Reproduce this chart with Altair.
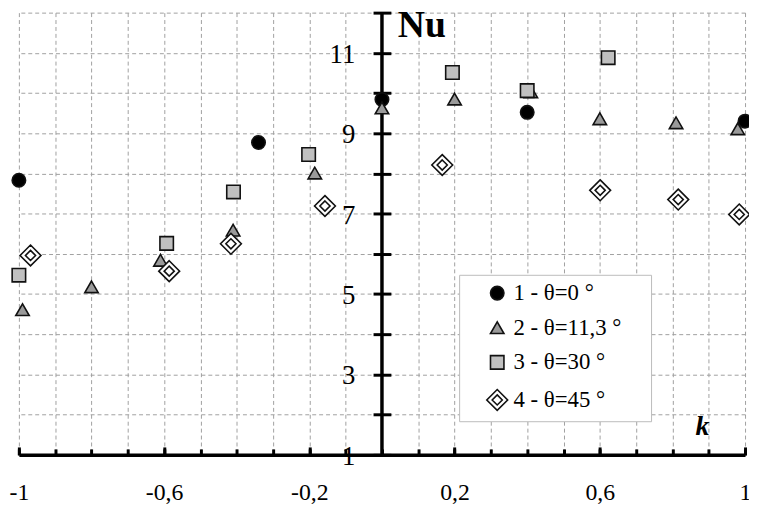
import altair as alt
import pandas as pd

# ---- data ----
k1 = [-1.0, -0.34, 0.0, 0.40, 1.0]
nu1 = [7.83, 8.77, 9.84, 9.52, 9.30]
k2 = [-0.99, -0.80, -0.61, -0.41, -0.185, 0.0, 0.20, 0.41, 0.60, 0.81, 0.98]
nu2 = [4.61, 5.18, 5.84, 6.59, 8.01, 9.63, 9.85, 10.03, 9.36, 9.26, 9.11]
k3 = [-1.0, -0.593, -0.409, -0.202, 0.194, 0.40, 0.623]
nu3 = [5.47, 6.26, 7.54, 8.47, 10.51, 10.06, 10.88]
k4 = [-0.968, -0.586, -0.416, -0.157, 0.166, 0.601, 0.816, 0.984]
nu4 = [5.96, 5.57, 6.25, 7.19, 8.21, 7.58, 7.35, 6.98]
series_labels = ["1 - θ=0 °", "2 - θ=11,3 °", "3 - θ=30 °", "4 - θ=45 °"]

x_grid = [-1.0, -0.9, -0.8, -0.7, -0.6, -0.5, -0.4, -0.3, -0.2, -0.1, 0.0,
          0.1, 0.2, 0.3, 0.4, 0.5, 0.6, 0.7, 0.8, 0.9, 1.0]
x_labels = [-1, -0.6, -0.2, 0.2, 0.6, 1]
y_ticks = [1, 2, 3, 4, 5, 6, 7, 8, 9, 10, 11, 12]
y_labels = [1, 3, 5, 7, 9, 11]
y_title = ["Nu"]
x_title = ["k"]

rows = []
for lab, ks, ns in zip(series_labels, [k1, k2, k3, k4], [nu1, nu2, nu3, nu4]):
    for a, b in zip(ks, ns):
        rows.append({"k": a, "nu": b, "series": lab})
df = pd.DataFrame(rows)

W, H = 734, 447
FONT = "Liberation Serif, Times New Roman, serif"
xscale = alt.Scale(domain=[-1, 1], nice=False, zero=False)
yscale = alt.Scale(domain=[1, 12], nice=False, zero=False)

diamond = "M0,-1.55L1.55,0L0,1.55L-1.55,0Z M0,-0.75L0.75,0L0,0.75L-0.75,0Z"

# the (white, invisible) legend title on the right only widens the box
legend = alt.Legend(
    orient="none", legendX=445, legendY=265,
    title="M", titleOrient="right", titleColor="white", titleFontSize=22,
    titlePadding=2,
    fillColor="white", strokeColor="#bbbbbb", padding=7, rowPadding=11,
    labelFont=FONT, labelFontSize=23, labelColor="black", labelLimit=400,
    symbolOffset=20, labelOffset=5, symbolStrokeColor="#111111",
    symbolStrokeWidth=1.6, symbolOpacity=1, symbolSize=185,
)

xlab_expr = ("indexof([-1,-0.6,-0.2,0.2,0.6,1], datum.value) >= 0 ? "
             "replace(toString(datum.value), '.', ',') : ''")

points = alt.Chart(df).mark_point(
    filled=True, opacity=1, strokeWidth=1.6, size=185
).encode(
    x=alt.X("k:Q", scale=xscale, axis=alt.Axis(
        orient="bottom", values=x_grid, grid=True, gridColor="#a0a0a0",
        gridDash=[4, 3], gridWidth=1, domain=False, ticks=False, tickSize=0,
        labelExpr=xlab_expr, labelFont=FONT, labelFontSize=24, labelPadding=26,
        labelFlush=False, labelOverlap=False, labelColor="black", title=None)),
    y=alt.Y("nu:Q", scale=yscale, axis=alt.Axis(
        orient="left", offset=-(W / 2 + 9), values=y_ticks, grid=False,
        domain=False, ticks=True, tickSize=18, tickWidth=3, tickColor="black",
        labels=False, title=None)),
    fill=alt.Fill("series:N", scale=alt.Scale(
        domain=series_labels, range=["#000000", "#9a9a9a", "#c0c0c0", "#ffffff"]),
        legend=legend),
    stroke=alt.Stroke("series:N", scale=alt.Scale(
        domain=series_labels, range=["#111111", "#111111", "#111111", "#111111"]),
        legend=legend),
    shape=alt.Shape("series:N", scale=alt.Scale(
        domain=series_labels, range=["circle", "triangle-up", "square", diamond]),
        legend=legend),
)

axis_df = pd.DataFrame({"x": [0], "y": [1], "y2": [12]})
yaxis_line = alt.Chart(axis_df).mark_rule(color="black", strokeWidth=3.5).encode(
    x=alt.X("x:Q", scale=xscale, axis=alt.Axis(
        orient="top", offset=-H, values=x_grid, domain=True, domainColor="black",
        domainWidth=3.5, ticks=True, tickSize=6, tickWidth=3, tickColor="black",
        labels=False, grid=False, title=None)),
    y=alt.Y("y:Q", scale=yscale, axis=alt.Axis(
        orient="right", values=y_ticks, grid=True, gridColor="#a0a0a0",
        gridDash=[4, 3], gridWidth=1, domain=False, ticks=False, labels=False,
        title=None)),
    y2="y2:Q",
)

ylab_df = pd.DataFrame({"x": [0] * len(y_labels), "y": y_labels,
                        "t": [str(v) for v in y_labels]})
ylab_text = alt.Chart(ylab_df).mark_text(
    font=FONT, fontSize=27, align="right", baseline="middle",
    dx=-27, dy=2, color="black"
).encode(
    x=alt.X("x:Q", scale=xscale, axis=None),
    y=alt.Y("y:Q", scale=yscale, axis=None),
    text="t:N",
)

nu_df = pd.DataFrame({"x": [0], "y": [12], "t": y_title})
nu_text = alt.Chart(nu_df).mark_text(
    font=FONT, fontSize=38, fontWeight="bold", align="left",
    baseline="alphabetic", dx=16, dy=25, color="black"
).encode(
    x=alt.X("x:Q", scale=xscale, axis=None),
    y=alt.Y("y:Q", scale=yscale, axis=None),
    text="t:N",
)

k_df = pd.DataFrame({"x": [1], "y": [1], "t": x_title})
k_text = alt.Chart(k_df).mark_text(
    font=FONT, fontSize=28, fontWeight="bold", fontStyle="italic",
    align="center", baseline="alphabetic", dx=-43, dy=-20, color="black"
).encode(
    x=alt.X("x:Q", scale=xscale, axis=alt.Axis(
        orient="top", offset=-H, values=x_labels, domain=False, ticks=True,
        tickSize=8, tickWidth=3, tickColor="black", labels=False, grid=False,
        title=None)),
    y=alt.Y("y:Q", scale=yscale, axis=None),
    text="t:N",
)

chart = alt.layer(yaxis_line, points, ylab_text, nu_text, k_text).resolve_axis(
    x="independent", y="independent"
).properties(
    width=W, height=H, autosize="none",
    padding={"left": 11, "top": 2, "right": 4, "bottom": 48},
    background="white",
).configure(
    font=FONT
).configure_axis(
    labelFont=FONT
).configure_legend(
    labelFont=FONT
).configure_text(
    font=FONT
).configure_view(stroke=None)

chart.save("out.html", embed_options={"renderer": "svg", "actions": False})
